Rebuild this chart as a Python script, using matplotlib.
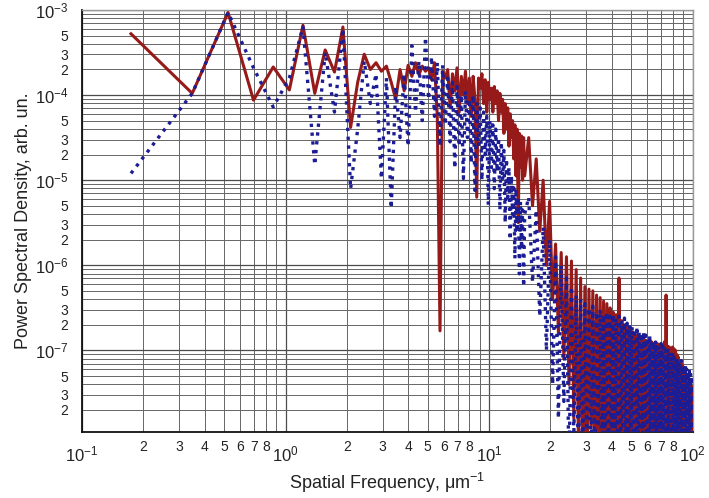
import numpy as np
import matplotlib.pyplot as plt
from matplotlib.ticker import LogLocator, FixedLocator, FuncFormatter

plt.rcParams['font.family'] = ['Liberation Sans', 'DejaVu Sans']

# frequency step of the spectrum, um^-1
df = 0.174
# fine samples below 15 um^-1, every 4th sample above
k_low = np.arange(1, 87)
k_high = np.arange(90, 575, 4)

# log10 of PSD, solid (red) curve
red_low = [
    -3.28, -3.98, -3.03, -4.06, -3.67, -3.94, -3.18, -3.98, -3.47, -3.73,
    -3.20, -4.38, -3.85, -3.52, -3.70, -3.62, -3.72, -3.66, -3.85, -4.05,
    -3.70, -3.95, -3.65, -3.78, -3.62, -3.76, -3.66, -3.72, -3.68, -3.82,
    -3.62, -4.25, -6.77, -3.72, -3.80, -3.70, -4.15, -3.75, -3.95, -3.68,
    -4.20, -3.78, -4.00, -3.72, -4.10, -3.80, -4.25, -3.78, -4.05, -5.20,
    -3.80, -3.92, -3.75, -4.10, -3.82, -4.20, -3.85, -4.05, -3.92, -4.20,
    -3.90, -4.10, -3.95, -4.30, -3.98, -4.20, -4.05, -4.45, -4.10, -4.40,
    -4.15, -4.60, -4.22, -4.50, -4.30, -4.75, -4.35, -4.95, -4.40, -5.50,
    -4.45, -4.85, -4.48, -5.00, -4.50, -4.95,
]
red_high = [
    -4.50, -5.30, -4.75, -5.60, -5.00, -6.00, -5.25, -6.40, -5.75, -6.80,
    -5.85, -7.10, -5.90, -7.40, -5.95, -7.80, -6.05, -8.10, -6.15, -8.50,
    -6.25, -8.50, -6.28, -7.90, -6.30, -8.50, -6.35, -8.50, -6.38, -8.20,
    -6.42, -8.50, -6.45, -8.50, -6.50, -8.00, -6.55, -8.50, -6.58, -8.50,
    -6.15, -8.50, -6.65, -8.30, -6.70, -8.50, -6.72, -8.50, -6.75, -8.10,
    -6.78, -8.50, -6.80, -8.50, -6.82, -8.30, -6.85, -8.50, -6.88, -8.50,
    -6.86, -8.00, -6.88, -8.50, -6.90, -8.50, -6.88, -8.20, -6.90, -8.50,
    -6.92, -8.50, -6.90, -8.30, -6.92, -8.50, -6.95, -8.50, -6.93, -8.10,
    -6.95, -8.50, -6.90, -8.50, -6.35, -8.50, -6.95, -8.20, -6.96, -8.50,
    -6.98, -8.50, -6.96, -8.30, -6.98, -8.50, -7.00, -8.50, -7.05, -8.10,
    -7.08, -8.50, -7.12, -8.50, -7.15, -8.30, -7.18, -8.50, -7.22, -8.50,
    -7.25, -8.20, -7.30, -8.50, -7.35, -8.50, -7.38, -8.30, -7.40, -8.50,
    -7.42, -8.50,
]

# log10 of PSD, dotted (blue) curve
blue_low = [
    -4.92, -3.98, -3.03, -3.68, -4.14, -3.80, -3.20, -4.82, -3.50, -4.20,
    -3.22, -5.10, -4.40, -3.60, -4.10, -3.75, -4.98, -3.80, -5.33, -3.90,
    -4.50, -3.75, -4.60, -3.42, -4.20, -3.60, -4.30, -3.32, -4.05, -3.55,
    -4.25, -3.62, -4.60, -3.65, -4.35, -3.80, -4.55, -3.85, -4.86, -3.90,
    -4.60, -4.00, -4.98, -3.95, -4.50, -4.05, -4.80, -4.00, -5.12, -4.10,
    -4.60, -4.15, -5.00, -4.20, -4.70, -4.25, -5.29, -4.30, -4.85, -4.35,
    -5.10, -4.40, -4.90, -4.50, -5.35, -4.55, -5.00, -4.65, -5.50, -4.75,
    -5.20, -4.85, -5.70, -4.95, -5.40, -5.05, -5.92, -5.10, -5.60, -5.20,
    -6.10, -5.25, -5.80, -5.35, -6.25, -5.40,
]
blue_high = [
    -5.20, -6.20, -5.35, -6.60, -5.55, -7.00, -5.70, -7.40, -5.90, -7.80,
    -6.00, -7.60, -6.15, -8.50, -6.25, -8.00, -6.35, -8.50, -6.40, -8.50,
    -6.45, -8.20, -6.50, -8.50, -6.48, -8.50, -6.55, -7.90, -6.52, -8.50,
    -6.58, -8.50, -6.55, -8.30, -6.60, -8.50, -6.58, -8.50, -6.62, -8.00,
    -6.60, -8.50, -6.65, -8.50, -6.62, -8.40, -6.68, -8.50, -6.70, -8.50,
    -6.72, -8.10, -6.75, -8.50, -6.72, -8.50, -6.78, -8.30, -6.80, -8.50,
    -6.78, -8.50, -6.82, -8.00, -6.85, -8.50, -6.82, -8.50, -6.88, -8.20,
    -6.90, -8.50, -6.88, -8.50, -6.92, -8.40, -6.95, -8.50, -6.92, -8.50,
    -6.95, -8.10, -6.98, -8.50, -7.00, -8.50, -6.98, -8.30, -7.02, -8.50,
    -7.05, -8.50, -7.02, -8.00, -7.08, -8.50, -7.10, -8.50, -7.08, -8.40,
    -7.12, -8.50, -7.15, -8.50, -7.12, -8.20, -7.18, -8.50, -7.20, -8.50,
    -7.18, -8.30, -7.22, -8.50, -7.25, -8.50, -7.22, -8.10, -7.28, -8.50,
    -7.30, -8.50,
]

freq = df * np.concatenate([k_low, k_high])
psd_red = 10.0 ** np.array(red_low + red_high)
psd_blue = 10.0 ** np.array(blue_low + blue_high)

fig = plt.figure(figsize=(7.09, 4.98), dpi=100)
ax = fig.add_axes([0.1157, 0.1325, 0.8611, 0.8475])
ax.set_xscale('log')
ax.set_yscale('log')

ax.plot(freq, psd_red, color='#961a1a', lw=2.2, zorder=3)
ax.plot(freq, psd_blue, color='#1c1c94', lw=2.4, ls=':', zorder=4)

ax.set_xlim(0.1, 100)
ax.set_ylim(1.1e-8, 1e-3)

# grid on every decade and every sub-decade
ax.xaxis.set_major_locator(FixedLocator([0.1, 1, 10, 100]))
ax.xaxis.set_minor_locator(LogLocator(base=10, subs=np.arange(2, 10)))
ax.yaxis.set_major_locator(FixedLocator([1e-7, 1e-6, 1e-5, 1e-4, 1e-3]))
ax.yaxis.set_minor_locator(LogLocator(base=10, subs=np.arange(2, 10)))
ax.grid(which='major', color='0.3', lw=0.9)
ax.grid(which='minor', color='0.4', lw=0.7)
ax.set_axisbelow(True)


def major_fmt(v, pos):
    return r'$\mathregular{10^{%d}}$' % int(round(np.log10(v)))


def minor_fmt_x(v, pos):
    d = int(round(v / 10 ** np.floor(np.log10(v) + 1e-9)))
    return str(d) if d <= 8 else ''


def minor_fmt_y(v, pos):
    d = int(round(v / 10 ** np.floor(np.log10(v) + 1e-9)))
    return str(d) if d in (2, 3, 5) else ''


ax.xaxis.set_major_formatter(FuncFormatter(major_fmt))
ax.xaxis.set_minor_formatter(FuncFormatter(minor_fmt_x))
ax.yaxis.set_major_formatter(FuncFormatter(major_fmt))
ax.yaxis.set_minor_formatter(FuncFormatter(minor_fmt_y))

ax.tick_params(which='both', length=0, colors='#222222')
ax.tick_params(axis='x', which='major', labelsize=12, pad=9)
ax.tick_params(axis='x', which='minor', labelsize=10, pad=6)
ax.tick_params(axis='y', which='major', labelsize=12, pad=10)
ax.tick_params(axis='y', which='minor', labelsize=10, pad=10)

for side in ('left', 'bottom'):
    ax.spines[side].set_color('#111111')
    ax.spines[side].set_linewidth(1.3)
for side in ('top', 'right'):
    ax.spines[side].set_color('#999999')
    ax.spines[side].set_linewidth(1.0)

ax.set_xlabel(r'Spatial Frequency, $\mathregular{\mu m^{-1}}$', fontsize=13, color='#222222', labelpad=5)
ax.set_ylabel('Power Spectral Density, arb. un.', fontsize=13, color='#222222', labelpad=2)

fig.savefig('out.png', dpi=100)
